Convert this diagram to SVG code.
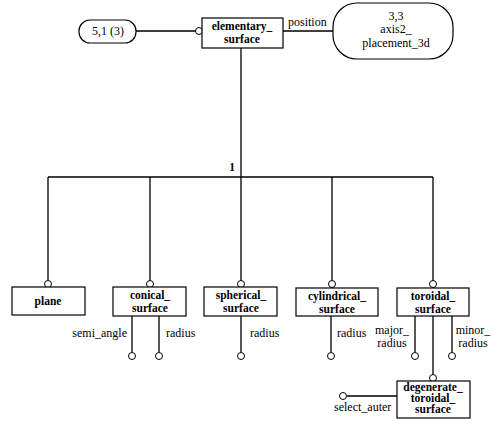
<svg xmlns="http://www.w3.org/2000/svg" width="498" height="426" viewBox="0 0 498 426">
<style>
.bx{fill:#fff;stroke:#000;stroke-width:1.2}
.ln{fill:none;stroke:#000;stroke-width:1.3}
.c{fill:#fff;stroke:#000;stroke-width:1}
text{font-family:"Liberation Serif","DejaVu Serif","Times New Roman",serif}
.b{font-weight:bold;font-size:11.5px;text-anchor:middle}
.t{font-size:12px}
.m{text-anchor:middle}
.e{text-anchor:end}
</style>
<rect width="498" height="426" fill="#fff"/>
<g id="connectors">
<path class="ln" d="M136 31H196M283 31H333M241 48V177M48 177H433M48 177V281M150 177V281M241 177V281M332 177V281M433 177V281"/>
<path class="ln" d="M132 316V352M159 316V352M241 316V352M331 316V352M415 316V352M452 316V352M433 316V375M347 396H397"/>
<circle class="c" cx="199" cy="31" r="3.5"/>
<circle class="c" cx="48" cy="284" r="3.5"/>
<circle class="c" cx="150" cy="284" r="3.5"/>
<circle class="c" cx="241" cy="284" r="3.5"/>
<circle class="c" cx="332" cy="284" r="3.5"/>
<circle class="c" cx="433" cy="284" r="3.5"/>
<circle class="c" cx="132" cy="356" r="3.5"/>
<circle class="c" cx="159" cy="356" r="3.5"/>
<circle class="c" cx="241" cy="356" r="3.5"/>
<circle class="c" cx="331" cy="356" r="3.5"/>
<circle class="c" cx="415" cy="356" r="3.5"/>
<circle class="c" cx="452" cy="356" r="3.5"/>
<circle class="c" cx="433" cy="378" r="3.5"/>
<circle class="c" cx="343" cy="396" r="3.5"/>
<text class="t" x="288" y="26">position</text>
<text class="b" x="232" y="171">1</text>
<text class="t e" x="127" y="337">semi_angle</text>
<text class="t" x="166" y="337">radius</text>
<text class="t" x="250" y="337">radius</text>
<text class="t" x="337" y="337">radius</text>
<text class="t m" x="392" y="334">major_</text>
<text class="t m" x="392" y="347">radius</text>
<text class="t m" x="473" y="334">minor_</text>
<text class="t m" x="473" y="347">radius</text>
<text class="t" x="334" y="411">select_auter</text>
</g>
<g id="n51"><rect class="bx" x="79" y="20" width="57" height="23" rx="11"/><text class="t m" x="108" y="35">5,1 (3)</text></g>
<g id="elementary_surface"><rect class="bx" x="202" y="18" width="81" height="30"/><text class="b" x="242" y="30">elementary_</text><text class="b" x="242" y="43">surface</text></g>
<g id="axis2_placement_3d"><rect class="bx" x="333" y="3" width="120" height="56" rx="24"/><text class="t m" x="396" y="20">3,3</text><text class="t m" x="396" y="33">axis2_</text><text class="t m" x="396" y="47">placement_3d</text></g>
<g id="plane"><rect class="bx" x="12" y="287" width="73" height="28"/><text class="b" x="48" y="305">plane</text></g>
<g id="conical_surface"><rect class="bx" x="113" y="287" width="73" height="29"/><text class="b" x="150" y="299">conical_</text><text class="b" x="150" y="312">surface</text></g>
<g id="spherical_surface"><rect class="bx" x="204" y="287" width="73" height="29"/><text class="b" x="241" y="299">spherical_</text><text class="b" x="241" y="312">surface</text></g>
<g id="cylindrical_surface"><rect class="bx" x="296" y="288" width="82" height="28"/><text class="b" x="337" y="300">cylindrical_</text><text class="b" x="337" y="313">surface</text></g>
<g id="toroidal_surface"><rect class="bx" x="397" y="288" width="72" height="28"/><text class="b" x="433" y="300">toroidal_</text><text class="b" x="433" y="313">surface</text></g>
<g id="degenerate_toroidal_surface"><rect class="bx" x="397" y="381" width="73" height="37"/><text class="b" x="433" y="391">degenerate_</text><text class="b" x="433" y="402">toroidal_</text><text class="b" x="433" y="413">surface</text></g>
</svg>
